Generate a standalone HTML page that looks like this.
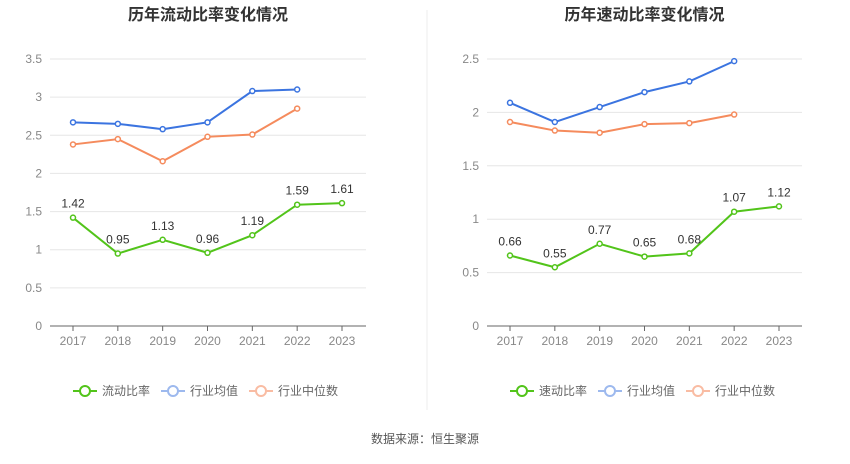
<!DOCTYPE html>
<html><head><meta charset="utf-8">
<style>
body{margin:0;background:#fff;width:850px;height:459px;overflow:hidden;font-family:"Liberation Sans","Noto Sans CJK SC",sans-serif;}
svg text{font-family:"Liberation Sans","Noto Sans CJK SC",sans-serif;}
</style></head>
<body>
<svg id="c" width="850" height="459">
<line x1="427" y1="10" x2="427" y2="410" stroke="#eee"/>
<text x="425" y="443" font-size="12" fill="#555" text-anchor="middle">数据来源：恒生聚源</text>
</svg>
<script>
const years=["2017","2018","2019","2020","2021","2022","2023"];
const currentRatio=[1.42,0.95,1.13,0.96,1.19,1.59,1.61];
const currentAvg=[2.67,2.65,2.58,2.67,3.08,3.10];
const currentMed=[2.38,2.45,2.16,2.48,2.51,2.85];
const quickRatio=[0.66,0.55,0.77,0.65,0.68,1.07,1.12];
const quickAvg=[2.09,1.91,2.05,2.19,2.29,2.48];
const quickMed=[1.91,1.83,1.81,1.89,1.90,1.98];
const leftTicks=["0","0.5","1","1.5","2","2.5","3","3.5"];
const rightTicks=["0","0.5","1","1.5","2","2.5"];
const svg=document.getElementById('c');
const NS="http://www.w3.org/2000/svg";
function mk(tag,attrs,parent){const e=document.createElementNS(NS,tag);for(const k in attrs)e.setAttribute(k,attrs[k]);(parent||svg).appendChild(e);return e;}
function panel(p){
  const g=mk('g',{});
  
  
  const y=v=>326-v/p.max*267;
  const x=i=>p.x0+i*(p.x1-p.x0)/6;
  const t=mk('text',{x:(p.left+p.right)/2,y:20,'font-size':16,'font-weight':'bold',fill:'#333','text-anchor':'middle'},g);
  t.textContent=p.title;
  
  
  p.ticks.forEach(s=>{const v=parseFloat(s);
    const l=mk('line',{x1:p.left,x2:p.right,y1:y(v),y2:y(v),stroke:v===0?'#666':'#e6e6e6'},g);
    
    
    const tx=mk('text',{x:p.left-8,y:y(v)+4,'font-size':12,fill:'#888','text-anchor':'end'},g);tx.textContent=s;
    
    
  });
  years.forEach((yr,i)=>{
    const tk=mk('line',{x1:x(i),x2:x(i),y1:326,y2:331,stroke:'#666'},g);
    
    
    const tx=mk('text',{x:x(i),y:345,'font-size':12,fill:'#888','text-anchor':'middle'},g);tx.textContent=yr;
    
    
  });
  [[p.med,'#f58b5d','median'],[p.avg,'#3b74e0','average'],[p.main,'#52c41a','main']].forEach(([d,c,n])=>{
    const pl=mk('polyline',{points:d.map((v,i)=>x(i)+','+y(v)).join(' '),fill:'none',stroke:c,'stroke-width':2},g);
    
    
    d.forEach((v,i)=>{
      const ci=mk('circle',{cx:x(i),cy:y(v),r:2.5,fill:'#fff',stroke:c,'stroke-width':1.5},g);
      
      
      if(n==='main'){const lb=mk('text',{x:x(i),y:y(v)-10,'font-size':12,fill:'#333','text-anchor':'middle'},g);lb.textContent=v.toFixed(2);
        
        }
    });
  });
  const items=[[p.mainName,'#52c41a'],['行业均值','#9db9ee'],['行业中位数','#f9bca3']];
  let lx=p.legX;
  items.forEach(([nm,c])=>{
    const lg=mk('g',{},g);
    
    
    mk('line',{x1:lx,x2:lx+24,y1:391,y2:391,stroke:c,'stroke-width':2},lg);
    mk('circle',{cx:lx+12,cy:391,r:5,fill:'#fff',stroke:c,'stroke-width':2},lg);
    const tx=mk('text',{x:lx+29,y:395,'font-size':12,fill:'#666'},lg);tx.textContent=nm;
    lx+=29+nm.length*12+11;
  });
}
panel({id:'current',title:'历年流动比率变化情况',left:50,right:366,x0:73,x1:342,max:3.5,ticks:leftTicks,main:currentRatio,avg:currentAvg,med:currentMed,mainName:'流动比率',legX:73});
panel({id:'quick',title:'历年速动比率变化情况',left:487,right:802,x0:510,x1:779,max:2.5,ticks:rightTicks,main:quickRatio,avg:quickAvg,med:quickMed,mainName:'速动比率',legX:510});
</script>
</body></html>
